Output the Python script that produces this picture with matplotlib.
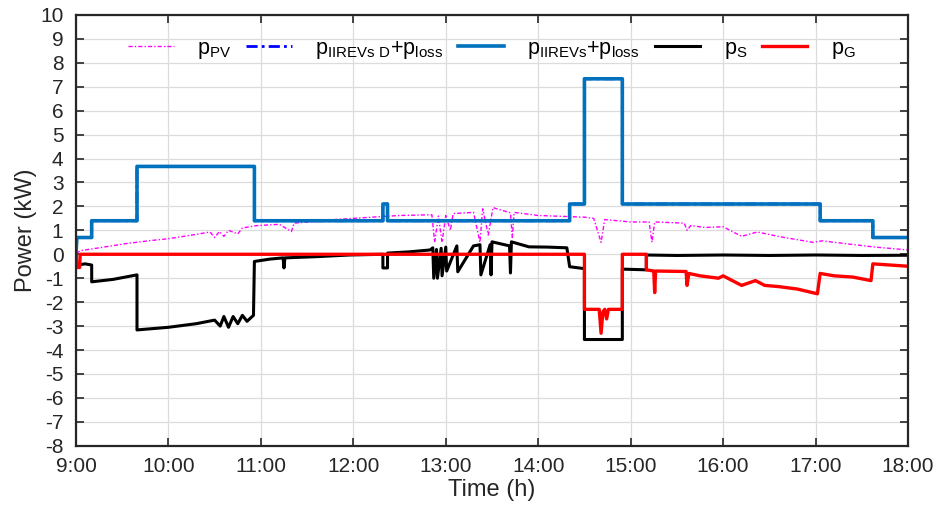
import matplotlib
matplotlib.use("Agg")
import matplotlib.pyplot as plt

# ---- data (time in hours, power in kW) ----
t_load = [9.0, 9.01, 9.17, 9.17, 9.66, 9.66, 10.93, 10.93, 12.32, 12.32, 12.37, 12.37,
          14.34, 14.34, 14.50, 14.50, 14.91, 14.91, 17.05, 17.05, 17.62, 17.62, 18.0]
p_load = [0.0, 0.7, 0.7, 1.4, 1.4, 3.67, 3.67, 1.4, 1.4, 2.1, 2.1, 1.4,
          1.4, 2.1, 2.1, 7.33, 7.33, 2.1, 2.1, 1.4, 1.4, 0.7, 0.7]

t_pv = [9.0, 9.05, 9.3, 9.55, 9.8, 10.0, 10.25, 10.45, 10.5, 10.55, 10.6, 10.65, 10.75,
        10.8, 10.96, 11.2, 11.33, 11.36, 11.8, 12.2, 12.5, 12.85, 12.88, 12.92, 12.96,
        13.0, 13.05, 13.08, 13.3, 13.37, 13.4, 13.46, 13.51, 13.7, 13.72, 13.74, 14.0,
        14.5, 14.6, 14.68, 14.72, 15.0, 15.2, 15.23, 15.26, 15.58, 15.61, 15.65, 15.8,
        16.0, 16.2, 16.37, 16.62, 16.97, 17.07, 17.62, 18.0]
p_pv = [0.05, 0.15, 0.3, 0.45, 0.57, 0.65, 0.8, 0.93, 0.7, 0.95, 0.75, 1.0, 0.85,
        1.1, 1.2, 1.25, 0.95, 1.3, 1.45, 1.55, 1.62, 1.65, 0.5, 1.6, 0.5,
        1.62, 1.0, 1.7, 1.75, 0.5, 1.9, 0.8, 1.95, 1.73, 0.7, 1.75, 1.62,
        1.55, 1.5, 0.5, 1.45, 1.35, 1.35, 0.5, 1.35, 1.3, 1.0, 1.2, 1.12,
        1.15, 0.75, 0.93, 0.73, 0.5, 0.56, 0.31, 0.18]

t_s = [9.0, 9.01, 9.1, 9.17, 9.17, 9.4, 9.66, 9.66, 10.0, 10.3, 10.5, 10.56, 10.6, 10.65,
       10.7, 10.75, 10.8, 10.85, 10.92, 10.93, 11.1, 11.24, 11.25, 11.26, 11.6, 11.96,
       12.32, 12.32, 12.37, 12.37, 12.6, 12.83, 12.86, 12.87, 12.9, 12.91, 12.95, 12.96,
       13.0, 13.01, 13.12, 13.13, 13.3, 13.37, 13.38, 13.48, 13.49, 13.5, 13.69, 13.7,
       13.71, 13.9, 14.1, 14.31, 14.34, 14.5, 14.5, 14.91, 14.91, 15.17, 15.17, 15.5,
       16.0, 16.5, 17.0, 17.5, 18.0]
p_s = [0.0, -0.45, -0.4, -0.45, -1.15, -1.05, -0.86, -3.16, -3.05, -2.9, -2.75, -3.0, -2.6, -3.05,
       -2.6, -2.9, -2.55, -2.8, -2.55, -0.3, -0.2, -0.15, -0.57, -0.15, -0.1, -0.03,
       0.0, -0.57, -0.57, 0.05, 0.1, 0.18, 0.27, -1.0, 0.2, -1.0, 0.25, -0.9,
       0.3, -0.7, 0.35, -0.73, 0.35, 0.4, -0.86, 0.4, -0.86, 0.52, 0.35, -0.78,
       0.52, 0.31, 0.3, 0.27, -0.52, -0.6, -3.56, -3.56, -0.62, -0.65, -0.03, -0.05,
       -0.03, -0.05, -0.03, -0.05, -0.04]

t_g = [9.0, 9.01, 9.04, 9.045, 14.5, 14.5, 14.66, 14.68, 14.70, 14.72, 14.74, 14.76, 14.91,
       14.91, 15.17, 15.17, 15.25, 15.26, 15.27, 15.6, 15.61, 15.63, 15.75, 15.95, 16.0,
       16.2, 16.35, 16.45, 16.6, 16.8, 17.02, 17.05, 17.2, 17.4, 17.6, 17.62, 18.0]
p_g = [0.0, -0.55, -0.55, 0.0, 0.0, -2.3, -2.3, -3.3, -2.4, -2.3, -2.7, -2.3, -2.3,
       0.0, 0.0, -0.65, -0.7, -1.6, -0.7, -0.72, -1.3, -0.8, -0.9, -1.0, -0.9,
       -1.3, -1.1, -1.3, -1.35, -1.45, -1.65, -0.8, -0.9, -0.95, -1.1, -0.4, -0.5]

x_ticks = [9, 10, 11, 12, 13, 14, 15, 16, 17, 18]
x_labels = ["9:00", "10:00", "11:00", "12:00", "13:00", "14:00", "15:00", "16:00", "17:00", "18:00"]
y_ticks = list(range(-8, 11))

plt.rcParams['font.family'] = ['Liberation Sans', 'DejaVu Sans']
plt.rcParams['mathtext.default'] = 'regular'
plt.rcParams['axes.unicode_minus'] = False

fig = plt.figure(figsize=(9.38, 5.13), dpi=100)
ax = fig.add_axes([0.081, 0.131, 0.887, 0.840])

ax.plot(t_pv, p_pv, color='#FF00FF', lw=1.0, ls=(0, (3, 1.5, 1, 1.5)), label=r'$p_{PV}$')
ax.plot(t_load, p_load, color='#0000FF', lw=2.0, ls=(0, (4, 1.5, 1, 1.5)),
        label=r'$p_{IIREVs\ D}$+$p_{loss}$')
ax.plot(t_load, p_load, color='#0072BD', lw=2.6, label=r'$p_{IIREVs}$+$p_{loss}$')
ax.plot(t_s, p_s, color='black', lw=2.2, label=r'$p_S$')
ax.plot(t_g, p_g, color='#FF0000', lw=2.4, label=r'$p_G$')

ax.set_xlim(9, 18)
ax.set_ylim(-8, 10)
ax.set_xticks(x_ticks)
ax.set_xticklabels(x_labels)
ax.set_yticks(y_ticks)
ax.grid(True, color='#dcdcdc', lw=0.9)
ax.set_axisbelow(True)
ax.tick_params(direction='in', length=6, width=1.2, top=True, right=True,
               labelsize=15, colors='#262626')
ax.tick_params(axis='y', pad=9)
ax.tick_params(axis='x', pad=8)
for sp in ax.spines.values():
    sp.set_linewidth(1.6)
    sp.set_color('#262626')

ax.set_xlabel('Time (h)', fontsize=17, color='#262626', labelpad=2)
ax.set_ylabel('Power (kW)', fontsize=17, color='#262626', labelpad=2)

leg = ax.legend(loc='upper center', bbox_to_anchor=(0.5, 0.992), ncol=5, frameon=False,
                fontsize=15.5, handlelength=2.1, columnspacing=0.7, handletextpad=1.1)

fig.savefig('out.png', dpi=100)
